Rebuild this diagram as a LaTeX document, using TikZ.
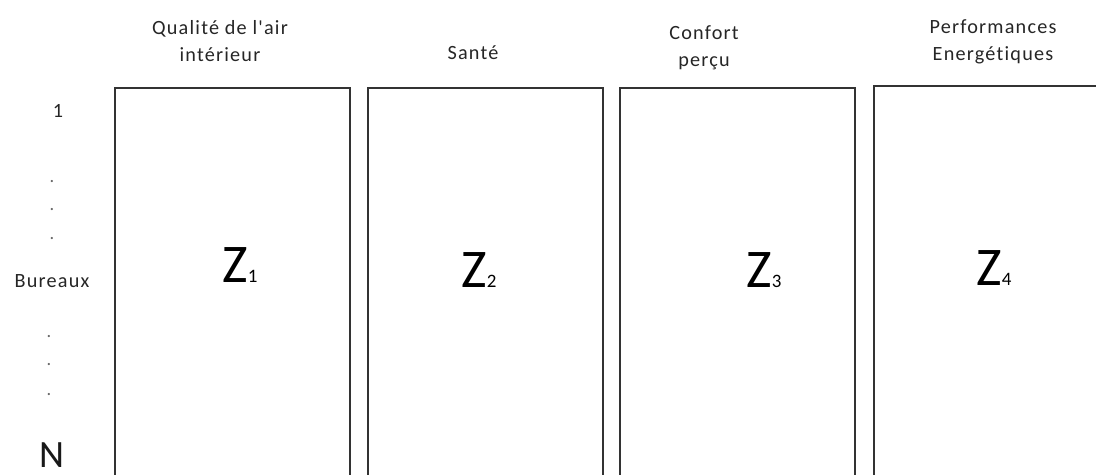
\documentclass[tikz,border=0pt]{standalone}
\usepackage{fontspec}
\setmainfont{Carlito}
\newfontfamily\labfont[LetterSpace=6,Ligatures=NoCommon]{Carlito}
\usetikzlibrary{positioning}

\newcommand\zsub[1]{{\fontsize{10.8}{11}\selectfont #1}}

\begin{document}
\begin{tikzpicture}[x=0.2mm, y=-0.2mm,
  head/.style={align=center, anchor=base, inner sep=0pt, text=black!85,
    font=\labfont\fontsize{11.5}{15.3}\selectfont},
  side/.style={anchor=base, inner sep=0pt, text=black!85,
    font=\labfont\fontsize{11.5}{12}\selectfont},
  dotlab/.style={anchor=base, inner sep=0pt, text=black!60,
    font=\fontsize{10.5}{12}\selectfont},
  zlab/.style={anchor=base west, inner sep=0pt,
    font=\fontsize{31}{31}\selectfont},
  col/.style={line width=0.7pt, draw=black!80}]
  % cadre
  \clip (0,0) rectangle (1096,474);

  % colonnes (ouvertes en bas)
  \draw[col] (115,500) |- (350,88) -- (350,500);
  \draw[col] (368,500) |- (603,88) -- (603,500);
  \draw[col] (620,500) |- (855,88) -- (855,500);
  \draw[col] (874,500) |- (1120,86);

  % titres des colonnes (base = derniere ligne)
  \node[head] (qai) at (220,61) {Qualité de l'air\\intérieur};
  \node[head] (sante) at (473,59) {Santé};
  \node[head] (confort) at (704,66) {Confort\\perçu};
  \node[head] (perf) at (993,60) {Performances\\Energétiques};

  % axe des bureaux (a gauche)
  \node[side] (un) at (58,117) {1};
  \node[dotlab] (d1) at (52,182) {.};
  \node[dotlab] (d2) at (52,210) {.};
  \node[dotlab] (d3) at (52,239) {.};
  \node[side] (bur) at (52,287) {Bureaux};
  \node[dotlab] (d4) at (49,337) {.};
  \node[dotlab] (d5) at (49,365) {.};
  \node[dotlab] (d6) at (49,395) {.};
  \node[anchor=base, inner sep=0pt, text=black!90,
    font=\fontsize{22}{22}\selectfont] (nn) at (52,467) {N};

  % matrices Z
  \node[zlab] (z1) at (222,282) {Z\zsub{1}};
  \node[zlab] (z2) at (461,287) {Z\zsub{2}};
  \node[zlab] (z3) at (746,287) {Z\zsub{3}};
  \node[zlab] (z4) at (976,285) {Z\zsub{4}};
\end{tikzpicture}
\end{document}
